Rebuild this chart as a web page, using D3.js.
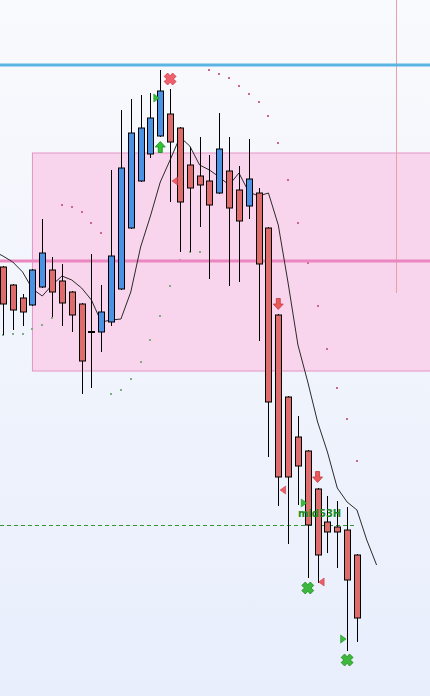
<!DOCTYPE html>
<html><head><meta charset="utf-8">
<script src="https://cdn.jsdelivr.net/npm/d3@7/dist/d3.min.js"></script>
<style>html,body{margin:0;padding:0;overflow:hidden;background:#fff}svg{display:block}</style>
</head><body>
<svg id="c" width="430" height="696"></svg>
<script>
// ---- data (price units) ----
const openV  = [733,715,702,695,713,730,719,708,696,668,668,678,711,772,819,846,864,886,872,835,824,819,807,829,810,794,807,772,685,603,563,549,511,478,473,470,445];
const highV  = [734,716,706,731,781,743,736,709,697,746,715,830,890,901,905,907,930,911,873,853,863,845,887,863,834,861,812,773,686,604,584,550,512,504,499,493,446];
const lowV   = [665,670,674,694,712,683,674,668,606,612,648,674,710,771,818,842,863,798,748,748,773,721,806,714,718,781,659,543,494,456,495,422,417,447,432,349,358];
const closeV = [696,690,688,730,747,708,697,685,639,668,688,744,832,867,872,882,909,858,798,812,815,795,851,792,779,821,736,598,523,523,534,475,445,468,468,420,382];
// moving average, starting at bar index -1, running two bars past the last candle
const maStart = -1;
const maV = [749,744,738,728,711,704,715,724,720,712,700,678,680,681,708,753,784,818,840,863,854,835,830,823,815,827,808,804,807,775,717,655,618,578,548,512,498,490,460,435];
// parabolic SAR dots
const sarV = [665,666,666,671,675,682,795,793,788,777,767,606,610,621,638,660,684,714,740,748,748,930,926,922,914,906,898,884,857,820,777,737,694,651,612,581,539];
const sarDir = ["up","up","up","up","up","up","dn","dn","dn","dn","dn","up","up","up","up","up","up","up","up","up","up","dn","dn","dn","dn","dn","dn","dn","dn","dn","dn","dn","dn","dn","dn","dn","dn"];
// levels
const blueLevel = 935;
const pinkLevel = 739;
const zoneTop = 847, zoneBottom = 629, zoneStartIdx = 3;
const dashedLevel = 475, dashedEndIdx = 36;
const vLineIdx = 40, vLineBottom = 707;
// signals
const crosses = [{i:17, p:921, c:"red"}, {i:31, p:412, c:"green"}, {i:35, p:340, c:"green"}];
const arrows  = [{i:16, p:853, dir:"up"}, {i:28, p:696, dir:"down"}, {i:32, p:523, dir:"down"}];
const tris    = [{i:16, p:902, dir:"right", dx:-4}, {i:18, p:819, dir:"left", dx:-5}, {i:29, p:510, dir:"left", dx:-5},
                 {i:31, p:497, dir:"right", dx:-4}, {i:32, p:418, dir:"left", dx:4}, {i:35, p:361, dir:"right", dx:-4}];
const labels  = [{i:30, p:484, text:"mid53H"}];

// ---- drawing ----
const W = 430, H = 696;
const svg = d3.select("#c");
const x = d3.scaleLinear().domain([-0.3, 43.43]).range([0, W]);
const y = d3.scaleLinear().domain([304, 1000]).range([H, 0]);

const defs = svg.append("defs");
const g = defs.append("linearGradient").attr("id","bg").attr("x1",0).attr("y1",0).attr("x2",0).attr("y2",1);
g.append("stop").attr("offset","0%").attr("stop-color","#f9fafd");
g.append("stop").attr("offset","100%").attr("stop-color","#e8eefc");
svg.append("rect").attr("width",W).attr("height",H).attr("fill","url(#bg)");

// zone
svg.append("rect").attr("x", x(zoneStartIdx)).attr("y", y(zoneTop))
  .attr("width", W - x(zoneStartIdx) + 2).attr("height", y(zoneBottom) - y(zoneTop))
  .attr("fill","#f8d5ec").attr("stroke","#e493c6").attr("stroke-width",1);

// vertical red line
svg.append("line").attr("x1", Math.round(x(vLineIdx))+0.5).attr("x2", Math.round(x(vLineIdx))+0.5)
  .attr("y1",0).attr("y2", y(vLineBottom)).attr("stroke","#e8a2a2").attr("stroke-width",1);

// blue level
svg.append("line").attr("x1",0).attr("x2",W).attr("y1",y(blueLevel)).attr("y2",y(blueLevel))
  .attr("stroke","#5ab5e2").attr("stroke-width",3);

// dashed green level
svg.append("line").attr("x1",0).attr("x2",x(dashedEndIdx)).attr("y1",Math.round(y(dashedLevel))+0.5).attr("y2",Math.round(y(dashedLevel))+0.5)
  .attr("stroke","#2f9a2f").attr("stroke-width",1).attr("stroke-dasharray","4,3");

// SAR dots
svg.append("g").selectAll("rect").data(sarV).join("rect")
  .attr("x",(d,i)=>Math.round(x(i))-1).attr("y",d=>Math.round(y(d))-1).attr("width",2).attr("height",2)
  .attr("fill",(d,i)=>sarDir[i]==="up" ? "#7fae84" : "#c66a86");

// pink level (drawn over dots)
svg.append("line").attr("x1",0).attr("x2",W).attr("y1",y(pinkLevel)).attr("y2",y(pinkLevel))
  .attr("stroke","#ec86c0").attr("stroke-width",3);

// moving average
const maLine = d3.line().x((d,k)=>x(k+maStart)).y(d=>y(d)).curve(d3.curveLinear);
svg.append("path").attr("d", maLine(maV)).attr("fill","none").attr("stroke","#2a2a2a").attr("stroke-width",1);

// candles
const idx = d3.range(openV.length);
const cg = svg.append("g");
cg.selectAll("line.w").data(idx).join("line").attr("class","w")
  .attr("x1",i=>Math.round(x(i))+0.5).attr("x2",i=>Math.round(x(i))+0.5)
  .attr("y1",i=>y(highV[i])).attr("y2",i=>y(lowV[i])).attr("stroke","#000").attr("stroke-width",1);
const bw = 7;
cg.selectAll("rect.b").data(idx.filter(i=>openV[i]!==closeV[i])).join("rect").attr("class","b")
  .attr("x",i=>Math.round(x(i))-3+0.5).attr("width",bw-1)
  .attr("y",i=>y(Math.max(openV[i],closeV[i]))).attr("height",i=>Math.abs(y(openV[i])-y(closeV[i])))
  .attr("fill",i=>closeV[i]>openV[i] ? "#4b92e4" : "#de6c6c").attr("stroke","#000").attr("stroke-width",1);
cg.selectAll("rect.d").data(idx.filter(i=>openV[i]===closeV[i])).join("rect").attr("class","d")
  .attr("x",i=>Math.round(x(i))-3).attr("width",bw).attr("y",i=>y(openV[i])-1).attr("height",2).attr("fill","#000");

// crosses
const crossPath = "M-2.5,-6 L0,-3.2 L2.5,-6 L6,-2.5 L3.2,0 L6,2.5 L2.5,6 L0,3.2 L-2.5,6 L-6,2.5 L-3.2,0 L-6,-2.5 Z";
svg.append("g").selectAll("path").data(crosses).join("path")
  .attr("d",crossPath).attr("transform",d=>`translate(${x(d.i)},${y(d.p)})`)
  .attr("fill",d=>d.c==="red" ? "#f0606c" : "#3cb83c").attr("stroke",d=>d.c==="red" ? "#c8404c" : "#1f8a1f")
  .attr("stroke-width",0.8).attr("stroke-linejoin","round");

// arrows
const upArrow = "M0,-5.5 L5,0 L2,0 L2,5.5 L-2,5.5 L-2,0 L-5,0 Z";
svg.append("g").selectAll("path").data(arrows).join("path")
  .attr("d",upArrow).attr("transform",d=>`translate(${x(d.i)},${y(d.p)}) rotate(${d.dir==="up"?0:180})`)
  .attr("fill",d=>d.dir==="up" ? "#33c233" : "#ea5a5a").attr("stroke",d=>d.dir==="up" ? "#168a16" : "#c23a3a")
  .attr("stroke-width",0.8);

// small triangles
svg.append("g").selectAll("path").data(tris).join("path")
  .attr("d",d=>d.dir==="right" ? "M-2.5,-4 L3,0 L-2.5,4 Z" : "M2.5,-4 L-3,0 L2.5,4 Z")
  .attr("transform",d=>`translate(${x(d.i)+d.dx},${y(d.p)})`)
  .attr("fill",d=>d.dir==="right" ? "#3cbc3c" : "#ec5e66").attr("stroke",d=>d.dir==="right" ? "#229022" : "#c8404c").attr("stroke-width",0.6);

// labels
svg.append("g").selectAll("text").data(labels).join("text")
  .attr("x",d=>x(d.i)).attr("y",d=>y(d.p)+1).attr("text-anchor","start")
  .attr("font-family","DejaVu Sans, sans-serif").attr("font-weight","bold").attr("font-size",10)
  .attr("fill","#1d8c1d").text(d=>d.text);
</script>
</body></html>
